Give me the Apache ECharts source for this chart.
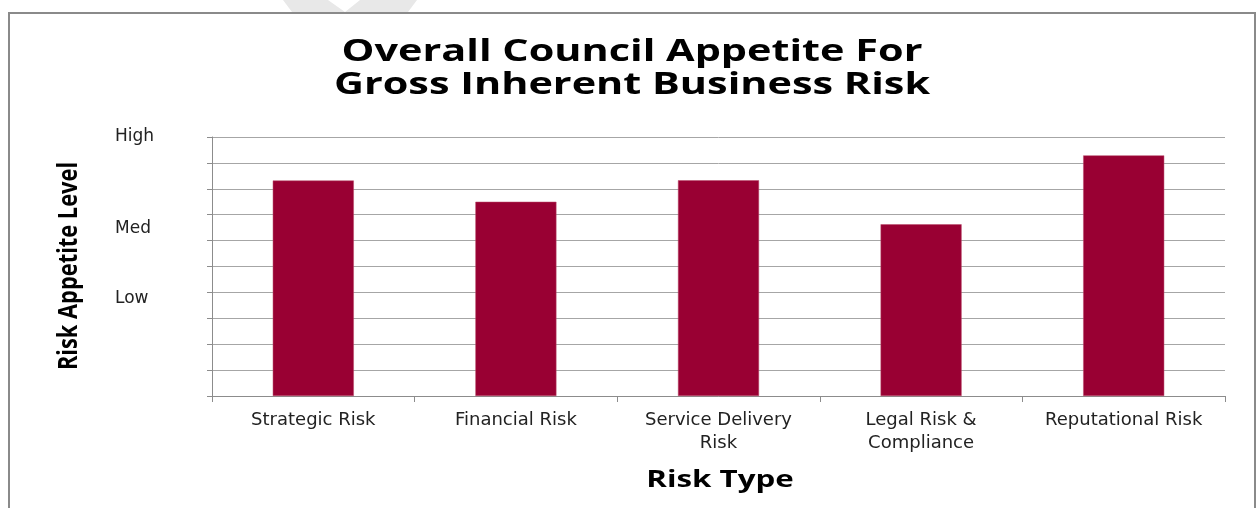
<!DOCTYPE html>
<html>
<head>
<meta charset="utf-8">
<script src="https://cdn.jsdelivr.net/npm/echarts@6/dist/echarts.min.js"></script>
<style>
  html, body { margin: 0; padding: 0; background: #fff; }
  #chart { width: 1257px; height: 508px; }
</style>
</head>
<body>
<div id="chart"></div>
<script>
// 数据
const categories = ["Strategic Risk", "Financial Risk", "Service Delivery\nRisk", "Legal Risk &\nCompliance", "Reputational Risk"];
const appetite = [8.32, 7.5, 8.33, 6.63, 9.29];
const levelNames = ["Low", "Med", "High"];
const levelValues = [3.75, 6.45, 10];
const titleText = "Overall Council Appetite For\nGross Inherent Business Risk";
const xName = "Risk Type";
const yName = "Risk Appetite Level";

const chart = echarts.init(document.getElementById("chart"));

const option = {
  animation: false,
  grid: {
    left: 212,
    right: 32,
    top: 137,
    bottom: 112,
  },
  xAxis: {
    type: "category",
    data: categories,
    axisLine: { lineStyle: { color: "#8c8c8c", width: 1 } },
    axisTick: { show: true, length: 6, lineStyle: { color: "#8c8c8c" } },
    axisLabel: {
      margin: 13,
      fontFamily: "DejaVu Sans",
      fontSize: 18,
      lineHeight: 23,
      color: "#222",
      interval: 0,
    },
  },
  yAxis: [
    {
      type: "value",
      min: 0,
      max: 10,
      interval: 1,
      axisLine: { show: true, lineStyle: { color: "#8c8c8c" } },
      axisTick: { show: true, length: 5, lineStyle: { color: "#8c8c8c" } },
      axisLabel: { show: false },
      splitLine: { show: true, lineStyle: { color: "#a6a6a6", width: 1 } },
    },
    {
      type: "value",
      position: "left",
      min: 0,
      max: 10,
      axisLine: { show: false },
      axisTick: { show: false },
      splitLine: { show: false },
      axisLabel: {
        customValues: levelValues,
        align: "left",
        margin: 97,
        fontFamily: "DejaVu Sans",
        fontSize: 17,
        color: "#222",
        formatter: (v) => levelNames[levelValues.indexOf(v)] || "",
      },
    },
  ],
  graphic: [
    // 外框
    {
      type: "rect",
      shape: { x: 9, y: 13, width: 1246, height: 510 },
      style: { fill: "none", stroke: "#8a8a8a", lineWidth: 2 },
      z: 0,
    },
    // 水印
    {
      type: "polygon",
      shape: { points: [[283, 0], [328, 0], [345, 12], [360, 0], [417, 0], [408, 12], [292, 12]] },
      style: { fill: "#e8e8e8" },
      z: 0,
    },
    // 标题（横向拉伸）
    {
      type: "text",
      x: 632,
      y: 69,
      scaleX: 1.38,
      style: {
        text: titleText,
        textAlign: "center",
        textVerticalAlign: "middle",
        fontFamily: "Open Sans",
        fontWeight: "bold",
        fontSize: 30,
        lineHeight: 33,
        fill: "#000",
      },
    },
    // x轴名称
    {
      type: "text",
      x: 720,
      y: 480,
      scaleX: 1.36,
      style: {
        text: xName,
        textAlign: "center",
        textVerticalAlign: "middle",
        fontFamily: "Open Sans",
        fontWeight: "bold",
        fontSize: 23,
        fill: "#000",
      },
    },
    // y轴名称
    {
      type: "text",
      x: 70,
      y: 266,
      rotation: Math.PI / 2,
      scaleX: 0.84,
      style: {
        text: yName,
        textAlign: "center",
        textVerticalAlign: "middle",
        fontFamily: "Open Sans",
        fontWeight: "bold",
        fontSize: 26,
        fill: "#000",
      },
    },
  ],
  series: [
    {
      name: "Risk Appetite",
      type: "bar",
      data: appetite,
      barWidth: "40%",
      itemStyle: {
        color: "#990033",
        borderColor: "#b8486a",
        borderWidth: 0.5,
      },
    },
  ],
};

chart.setOption(option);
</script>
</body>
</html>
